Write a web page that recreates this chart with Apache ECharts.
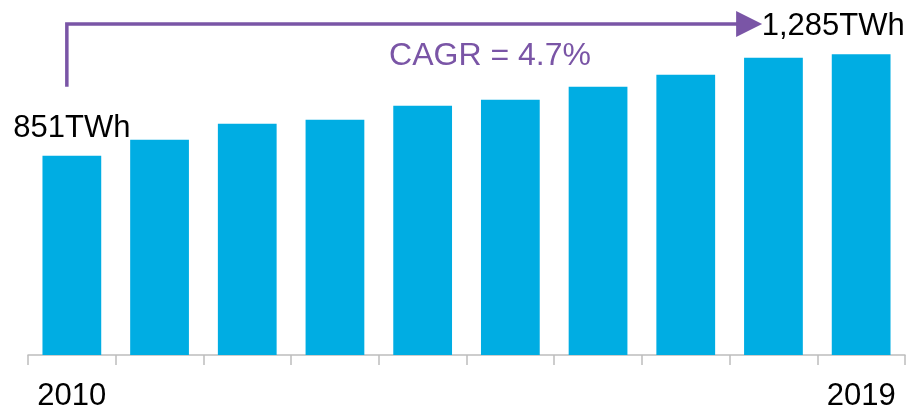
<!DOCTYPE html>
<html>
<head>
<meta charset="utf-8">
<script src="https://cdn.jsdelivr.net/npm/echarts@6/dist/echarts.min.js"></script>
<style>html,body{margin:0;padding:0;background:#fff}#c{width:908px;height:409px}</style>
</head>
<body>
<div id="c"></div>
<script>
var years = ['2010','2011','2012','2013','2014','2015','2016','2017','2018','2019'];
var values = [851, 919, 988, 1005, 1065, 1090, 1146, 1197, 1270, 1285];
var shownYearLabels = ['2010', '2019'];
var endLabels = ['851TWh', '1,285TWh'];
var cagrText = 'CAGR = 4.7%';

var FONT = 'Liberation Sans, Arial, sans-serif';
var PURPLE = '#7a55a6';
var chart = echarts.init(document.getElementById('c'));

var data = values.map(function (v, i) {
  var item = { value: v };
  if (i === 0) {
    item.label = { show: true, formatter: endLabels[0] };
  } else if (i === values.length - 1) {
    item.label = { show: true, formatter: endLabels[1], offset: [-28, 0] };
  }
  return item;
});

chart.setOption({
  animation: false,
  grid: { left: 28, right: 3, top: 27.2, bottom: 54, containLabel: false, outerBoundsMode: 'none' },
  xAxis: {
    type: 'category',
    data: years,
    axisLine: { lineStyle: { color: '#bdbdbd', width: 1.5 } },
    axisTick: { show: true, length: 10, lineStyle: { color: '#bdbdbd', width: 1.5 } },
    axisLabel: {
      interval: 0,
      margin: 26,
      fontSize: 31,
      fontFamily: FONT,
      color: '#000',
      formatter: function (v) { return shownYearLabels.indexOf(v) >= 0 ? v : ''; }
    }
  },
  yAxis: { type: 'value', min: 0, max: 1400, show: false, splitLine: { show: false } },
  series: [{
    type: 'bar',
    data: data,
    barCategoryGap: '33%',
    itemStyle: { color: '#00ade3' },
    label: {
      show: false,
      position: 'top',
      distance: 12,
      fontSize: 31,
      fontFamily: FONT,
      color: '#000'
    }
  }]
});

function drawArrow() {
  var p0 = chart.convertToPixel({ seriesIndex: 0 }, [0, values[0]]);
  var p9 = chart.convertToPixel({ seriesIndex: 0 }, [values.length - 1, values[values.length - 1]]);
  var x0 = p0[0] - 5;
  var yTop = 24;
  var yBottom = p0[1] - 69;
  var tipX = p9[0] - 99;
  var headLen = 26, headHalf = 13;
  chart.setOption({
    graphic: [
      {
        type: 'polyline',
        shape: { points: [[x0, yBottom], [x0, yTop], [tipX - headLen + 2, yTop]] },
        style: { stroke: PURPLE, lineWidth: 3.5, fill: null, lineJoin: 'miter' }
      },
      {
        type: 'polygon',
        shape: { points: [[tipX - headLen, yTop - headHalf], [tipX, yTop], [tipX - headLen, yTop + headHalf]] },
        style: { fill: PURPLE }
      },
      {
        type: 'text',
        x: 490, y: 56,
        style: {
          text: cagrText, fill: PURPLE, fontSize: 32, fontFamily: FONT,
          align: 'center', verticalAlign: 'middle'
        }
      }
    ]
  });
}
drawArrow();
</script>
</body>
</html>
